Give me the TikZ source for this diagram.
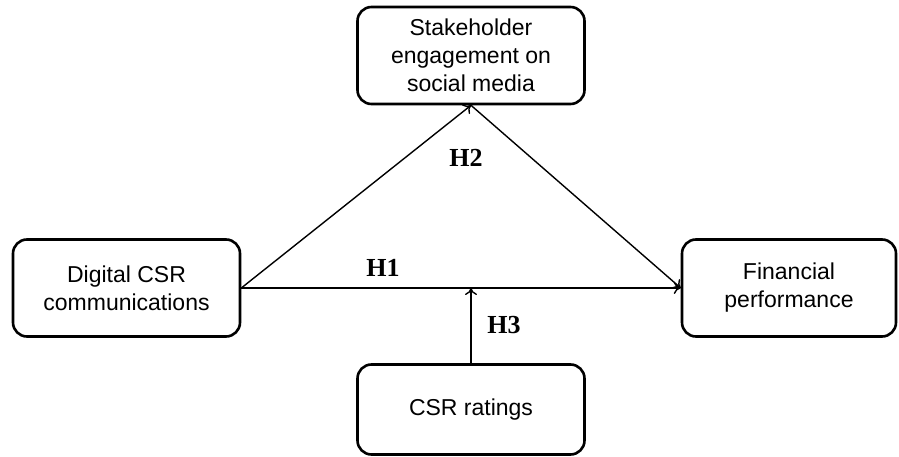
\documentclass[tikz,border=0pt]{standalone}
\usepackage{fontspec}
\setmainfont{Liberation Sans}
\newfontfamily\hfont{Liberation Serif}
\usetikzlibrary{arrows.meta}
\begin{document}
\begin{tikzpicture}[x=1pt,y=-1pt,
  box/.style={draw,line width=2.6pt,rounded corners=14pt,align=center,
    font=\fontsize{23}{28}\selectfont,inner sep=0pt},
  conn/.style={line width=1.4pt,-{To[length=7pt,width=12pt,line width=1.4pt]}},
  hlab/.style={font=\hfont\bfseries\fontsize{26}{30}\selectfont}]
\useasboundingbox (0,0) rectangle (899,457);
\node[box,minimum width=227pt,minimum height=97pt] (se) at (471,55.5) {Stakeholder\\engagement on\\social media};
\node[box,minimum width=227pt,minimum height=97pt] (dc) at (126.5,288) {Digital CSR\\communications};
\node[box,minimum width=214pt,minimum height=97pt] (fp) at (789,288) {Financial\\performance};
\node[box,minimum width=227pt,minimum height=90pt] (cr) at (471,409.5) {CSR ratings};
\coordinate (m) at (471,288);
\draw[conn] (dc.east) -- (fp.west);
\draw[conn] (dc.east) -- (se.south);
\draw[conn] (se.south) -- (fp.west);
\draw[conn] (cr.north) -- (m);
\node[hlab] (h2) at (466,158) {H2};
\node[hlab] (h1) at (383,268) {H1};
\node[hlab] (h3) at (504,325) {H3};
\end{tikzpicture}
\end{document}
